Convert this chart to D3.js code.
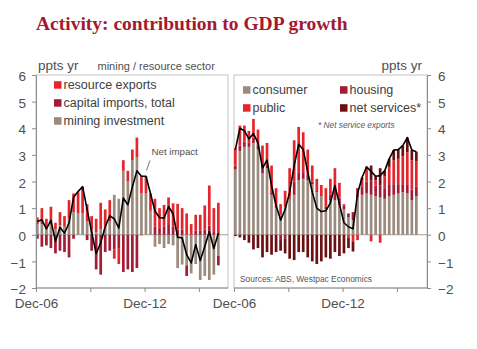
<!DOCTYPE html>
<html>
<head>
<meta charset="utf-8">
<script src="https://cdn.jsdelivr.net/npm/d3@7"></script>
<style>
  body { margin: 0; background: #fff; }
  svg text { font-family: "Liberation Sans", Arial, sans-serif; }
</style>
</head>
<body>
<svg id="chart" width="477" height="349"></svg>
<script>
// quarters, Dec-06 .. Dec-16
var quarters = ["Dec-06","Mar-07","Jun-07","Sep-07","Dec-07","Mar-08","Jun-08","Sep-08",
                "Dec-08","Mar-09","Jun-09","Sep-09","Dec-09","Mar-10","Jun-10","Sep-10",
                "Dec-10","Mar-11","Jun-11","Sep-11","Dec-11","Mar-12","Jun-12","Sep-12",
                "Dec-12","Mar-13","Jun-13","Sep-13","Dec-13","Mar-14","Jun-14","Sep-14",
                "Dec-14","Mar-15","Jun-15","Sep-15","Dec-15","Mar-16","Jun-16","Sep-16","Dec-16"];
var xTicks      = ["Dec-06","Dec-09","Dec-12","Dec-15"];
var xTickLabels = ["Dec-06","","Dec-12",""];
var yTicks      = [-2,-1,0,1,2,3,4,5,6];

// left panel: mining / resource sector (ppts yr)
var miningInvestment = [0.4,0.4,0.25,0.4,0.2,0.35,0.3,0.6,0.85,0.8,0.8,0.5,0.2,0.1,0.2,0.3,
                        0.5,1.5,1.35,2.4,2.0,2.8,2.9,1.55,1.55,0.9,-0.45,-0.35,-0.5,-0.35,-0.4,
                        -1.25,-1.12,-1.15,-1.45,-1.1,-1.7,-1.55,-1.7,-1.5,-0.8];
var capitalImports   = [-0.15,-0.45,-0.4,-0.5,-0.7,-0.6,-0.65,-0.85,-0.15,0,0,-0.2,-0.6,-1.3,-1.5,-0.65,
                        -0.6,-0.55,-0.5,-1.4,-1.3,-1.4,-1.25,-0.02,0,0,0.3,0.25,0.3,0.4,0.3,
                        0.2,0.2,-0.4,0,0.15,0.15,0.2,0.35,0.1,-0.35];
var resourceExports  = [0.25,0.6,0.35,0.65,0.25,0.5,0.4,0.7,0.7,0.8,1.0,0.65,0.5,0.5,1.0,0.65,
                        0.8,-0.35,-0.6,0.4,0.4,0.4,0.75,0.65,0.65,0.65,1.05,0.75,0.82,1.0,0.88,
                        0.96,0.8,0.8,0.4,0.6,0.6,0.9,1.5,0.9,1.2];
var netImpact        = [0.5,0.56,0.22,0.54,-0.25,0.28,0.06,0.44,1.41,1.62,1.81,0.95,0.1,-0.71,-0.3,0.3,
                        0.71,0.6,0.25,1.38,1.12,1.8,2.4,2.2,2.2,1.55,0.88,0.65,0.62,1.06,0.78,
                        -0.09,-0.12,-0.75,-1.06,-0.37,-0.97,-0.44,0.12,-0.52,0.06];

// right panel: consumer, housing, public, net services (ppts yr)
var consumer    = [2.45,3.15,3.3,3.3,3.45,3.2,2.3,2.5,1.5,1.0,0.75,1.05,1.35,1.5,2.05,2.1,
                   2.05,1.9,1.6,1.45,0.95,1.3,1.3,1.1,0.95,0.65,0.55,1.4,1.5,1.55,1.5,
                   1.45,1.4,1.35,1.45,1.5,1.55,1.6,1.55,1.3,1.45];
var housing     = [0.15,0.2,0.2,0.15,0.2,0.15,0.2,0.15,0.1,0,-0.2,-0.15,0.05,0.5,0.3,0.25,
                   0.2,0.1,0.05,0,0.1,0.2,0.5,0.3,0.15,0.15,0.3,0.35,0.3,0.45,0.55,
                   0.4,0.45,0.4,0.45,0.4,0.35,0.3,0.35,0.4,0.35];
var publicDemand= [0.65,0.75,0.6,0.45,0.7,0.6,0.85,0.8,1.0,0.75,0.4,0.6,1.1,1.55,1.7,1.5,
                   0.95,0.6,0.45,0.42,0.7,0.6,0.7,0.55,0.05,-0.1,-0.25,-0.2,0.25,0.45,-0.25,
                   0.2,-0.3,0.45,0.65,0.9,0.95,1.05,1.2,1.1,0.95];
var netServices = [-0.05,-0.1,-0.2,-0.3,-0.55,-0.5,-0.85,-0.65,-0.75,-0.65,-0.4,-0.55,-0.9,-0.95,-0.65,-0.65,
                   -0.85,-1.0,-1.1,-1.0,-0.85,-0.9,-0.65,-0.8,-0.7,-0.4,-0.38,0,0.1,0.1,0.55,
                   0.15,0.65,0.2,0.3,0.38,0.35,0.4,0.55,0.38,0.37];
var totalRight  = [3.2,4.0,3.9,3.6,3.8,3.45,2.5,2.8,1.85,1.1,0.55,0.95,1.6,2.6,3.4,3.2,
                   2.35,1.6,1.0,0.87,0.9,1.2,1.85,1.15,0.45,0.3,0.22,1.55,2.15,2.55,2.38,
                   2.2,2.22,2.4,2.85,3.18,3.2,3.35,3.65,3.18,3.12];

var RED = "#e4262c", CRIMSON = "#a31c36", TAUPE = "#9b8a7e", MAROON = "#6b1012";

var svg = d3.select("#chart");
var barW = 2.7;

var y = d3.scaleLinear().domain([-2, 6]).range([288, 75]);

svg.append("text").attr("x", 36).attr("y", 30)
   .style("font-family", "'Liberation Serif','Times New Roman',serif")
   .style("font-weight", "bold").style("font-size", "19.5px").attr("fill", "#a5192e")
   .text("Activity: contribution to GDP growth");

function drawPanel(p) {
  var x = d3.scalePoint().domain(quarters).range(p.xRange);
  var g = svg.append("g");

  // frame
  g.append("rect").attr("x", p.frame[0]).attr("y", 75)
   .attr("width", p.frame[1] - p.frame[0]).attr("height", 213)
   .attr("fill", "none").attr("stroke", "#b4b4b4").attr("stroke-width", 0.8);

  // zero line
  g.append("line").attr("x1", p.frame[0]).attr("x2", p.frame[1])
   .attr("y1", y(0)).attr("y2", y(0)).attr("stroke", "#a0a0a0").attr("stroke-width", 1);

  // stacked bars
  var rows = quarters.map(function(q, i) {
    var r = {q: q};
    p.keys.forEach(function(k, j) { r[k] = p.series[j][i]; });
    return r;
  });
  var stack = d3.stack().keys(p.keys).offset(d3.stackOffsetDiverging)(rows);
  g.selectAll("g.layer").data(stack).enter().append("g")
   .attr("fill", function(d, j) { return p.colors[j]; })
   .selectAll("rect").data(function(d) { return d; }).enter().append("rect")
   .attr("x", function(d) { return x(d.data.q); })
   .attr("width", barW)
   .attr("y", function(d) { return y(Math.max(d[0], d[1])); })
   .attr("height", function(d) { return Math.abs(y(d[0]) - y(d[1])); });

  // total line
  var line = d3.line()
    .x(function(d, i) { return x(quarters[i]) + barW / 2; })
    .y(function(d) { return y(d); });
  g.append("path").datum(p.total).attr("d", line)
   .attr("fill", "none").attr("stroke", "#000").attr("stroke-width", 1.6)
   .attr("stroke-linejoin", "round");

  // y axis
  var ya = (p.axisSide === "left" ? d3.axisLeft(y) : d3.axisRight(y))
    .tickValues(yTicks).tickSize(4).tickPadding(p.axisSide === "left" ? 6 : 7)
    .tickFormat(d3.format("d"));
  var yg = g.append("g").attr("transform", "translate(" + p.axisX + ",0)").call(ya);
  yg.select(".domain").attr("stroke", "#8c8c8c");
  yg.selectAll(".tick line").attr("stroke", "#8c8c8c");
  yg.selectAll(".tick text").style("font-size", "13.5px").attr("fill", "#505050")
    .attr("dy", "0.42em").style("font-family", "'Liberation Sans',Arial,sans-serif");

  // x axis
  var xa = d3.axisBottom(x).tickValues(xTicks).tickSize(4).tickSizeOuter(0).tickPadding(6)
    .tickFormat(function(d) { return xTickLabels[xTicks.indexOf(d)]; });
  var xg = g.append("g").attr("transform", "translate(0,288)").call(xa);
  xg.select(".domain").attr("stroke", "#8c8c8c").attr("d", "M" + p.frame[0] + ",0H" + p.frame[1]);
  xg.selectAll(".tick line").attr("stroke", "#8c8c8c");
  xg.selectAll(".tick text").style("font-size", "13.5px").attr("fill", "#505050")
    .style("font-family", "'Liberation Sans',Arial,sans-serif");

  // legend
  p.legend.forEach(function(l) {
    g.append("rect").attr("x", l.x).attr("y", l.y - 3.8).attr("width", 7.5).attr("height", 7.5)
     .attr("fill", l.color);
    g.append("text").attr("x", l.x + 9.5).attr("y", l.y + 4.4)
     .style("font-size", "12.5px").attr("fill", "#404040").text(l.label);
  });

  g.append("text").attr("x", p.unitX).attr("y", 70).style("font-size", "13.5px")
   .attr("fill", "#505050").text("ppts yr");
  return g;
}

var left = drawPanel({
  xRange: [36, 217], frame: [36, 228], axisX: 36, axisSide: "left", unitX: 38,
  keys: ["mining", "capImports", "resExports"],
  series: [miningInvestment, capitalImports, resourceExports],
  colors: [TAUPE, CRIMSON, RED],
  total: netImpact,
  legend: [
    {x: 54, y: 85, color: RED, label: "resource exports"},
    {x: 54, y: 103, color: CRIMSON, label: "capital imports, total"},
    {x: 54, y: 121, color: TAUPE, label: "mining investment"}
  ]
});
left.append("text").attr("x", 97.5).attr("y", 70).style("font-size", "11px")
    .attr("fill", "#505050").text("mining / resource sector");
left.append("text").attr("x", 151.5).attr("y", 155).style("font-size", "9.7px")
    .attr("fill", "#505050").text("Net impact");
left.append("line").attr("x1", 146.5).attr("y1", 170.5).attr("x2", 150).attr("y2", 160.5)
    .attr("stroke", "#505050").attr("stroke-width", 0.8);

var right = drawPanel({
  xRange: [234, 415], frame: [234, 427], axisX: 427, axisSide: "right", unitX: 381.5,
  keys: ["consumer", "housing", "public", "netServices"],
  series: [consumer, housing, publicDemand, netServices],
  colors: [TAUPE, CRIMSON, RED, MAROON],
  total: totalRight,
  legend: [
    {x: 243, y: 90, color: TAUPE, label: "consumer"},
    {x: 340, y: 90, color: CRIMSON, label: "housing"},
    {x: 243, y: 108, color: RED, label: "public"},
    {x: 340, y: 108, color: MAROON, label: "net services*"}
  ]
});
right.append("text").attr("x", 318).attr("y", 128).style("font-size", "8.3px")
     .style("font-style", "italic").attr("fill", "#555").text("* Net service exports");
right.append("text").attr("x", 240).attr("y", 282).style("font-size", "8.4px")
     .attr("fill", "#555").text("Sources: ABS, Westpac Economics");
</script>
</body>
</html>
